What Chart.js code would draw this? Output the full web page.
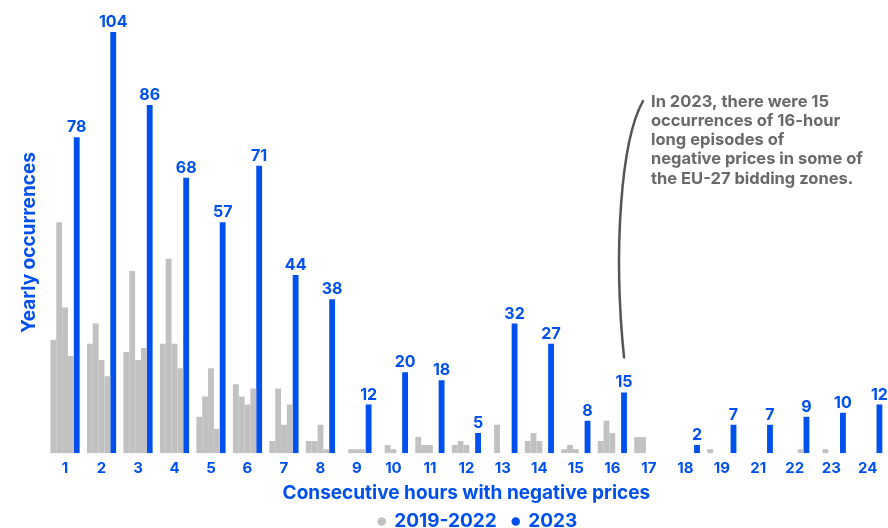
<!DOCTYPE html>
<html><head><meta charset="utf-8">
<script src="https://cdn.jsdelivr.net/npm/chart.js@4.4.1/dist/chart.umd.min.js"></script>
<style>html,body{margin:0;padding:0;background:#fff}#wrap{width:888px;height:528px;position:relative}</style>
</head><body><div id="wrap"><canvas id="c"></canvas></div>
<script>
// ---- data ----
const categories = ['1','2','3','4','5','6','7','8','9','10','11','12','13','14','15','16','17','18','19','21','22','23','24'];
const values2019 = [28,27,25,27,9,17,3,3,0,0,4,2,0,3,1,3,4,0,1,0,0,0,0];
const values2020 = [57,32,45,48,14,14,16,3,1,2,2,3,7,5,2,8,4,0,0,0,0,1,0];
const values2021 = [36,23,23,27,21,12,7,7,1,1,2,2,0,3,1,5,0,0,0,0,0,0,0];
const values2022 = [24,19,26,21,6,16,12,1,1,0,0,0,0,0,0,0,0,0,0,0,1,0,0];
const values2023 = [78,104,86,68,57,71,44,38,12,20,18,5,32,27,8,15,0,2,7,7,9,10,12];
const legendNames = ['2019-2022','2023'];
const yTitle = 'Yearly occurrences';
const xTitle = 'Consecutive hours with negative prices';
const noteLines = ['In 2023, there were 15','occurrences of 16-hour','long episodes of','negative prices in some of','the EU-27 bidding zones.'];
const noteCategory = '16';

const BLUE = '#0050EE', GREY = '#C1C1C1', NOTE = '#696969', FONT = 'Inter';

const greyDs = (label, data) => ({label, data, backgroundColor: GREY, borderWidth: 0, categoryPercentage: 0.8, barPercentage: 1.0});

const labelPlugin = {
  id: 'barLabels',
  afterDatasetsDraw(chart) {
    const ctx = chart.ctx;
    const meta = chart.getDatasetMeta(4);
    ctx.save();
    ctx.font = '700 16px ' + FONT;
    ctx.fillStyle = BLUE;
    ctx.textAlign = 'center';
    ctx.textBaseline = 'alphabetic';
    meta.data.forEach((bar, i) => {
      const v = values2023[i];
      if (!v) return;
      ctx.fillText(String(v), bar.x, bar.y - 5);
    });
    ctx.restore();
  }
};

const notePlugin = {
  id: 'note',
  afterDraw(chart) {
    const ctx = chart.ctx;
    const idx = categories.indexOf(noteCategory);
    const bar = chart.getDatasetMeta(4).data[idx];
    const ex = bar.x, ey = bar.y - 35;
    ctx.save();
    ctx.strokeStyle = '#555555';
    ctx.lineWidth = 2.5;
    ctx.lineCap = 'round';
    ctx.beginPath();
    ctx.moveTo(643, 101);
    ctx.bezierCurveTo(621, 140, 613, 250, ex, ey);
    ctx.stroke();
    ctx.font = '700 16.5px ' + FONT;
    ctx.fillStyle = NOTE;
    ctx.textAlign = 'left';
    ctx.textBaseline = 'alphabetic';
    noteLines.forEach((t, i) => ctx.fillText(t, 651, 106.5 + i * 19.3));
    ctx.restore();
  }
};

const legendShift = {
  id: 'legendShift',
  afterLayout(chart) {
    const dx = 27;
    chart.legend.left += dx;
    chart.legend.right += dx;
  }
};

new Chart(document.getElementById('c'), {
  type: 'bar',
  data: {
    labels: categories,
    datasets: [
      greyDs('2019', values2019),
      greyDs('2020', values2020),
      greyDs('2021', values2021),
      greyDs('2022', values2022),
      {label: '2023', data: values2023, backgroundColor: BLUE, borderWidth: 0, categoryPercentage: 0.8, barPercentage: 1.0}
    ]
  },
  options: {
    responsive: true,
    maintainAspectRatio: false,
    animation: false,
    devicePixelRatio: 1,
    layout: {padding: {top: 32, left: 16, right: 2, bottom: -13}},
    scales: {
      x: {
        grid: {display: false, drawTicks: false},
        border: {display: false},
        ticks: {color: BLUE, font: {family: FONT, size: 15, weight: '700'}, padding: 6, maxRotation: 0, autoSkip: false},
        title: {display: true, text: xTitle, color: BLUE, font: {family: FONT, size: 19, weight: '700'}, padding: {top: -1, bottom: -9}}
      },
      y: {
        min: 0, max: 104,
        grid: {display: false, drawTicks: false},
        border: {display: false},
        ticks: {display: false},
        title: {display: true, text: yTitle, color: BLUE, font: {family: FONT, size: 19, weight: '700'}, padding: {top: 2, bottom: 6}}
      }
    },
    plugins: {
      tooltip: {enabled: false},
      legend: {
        position: 'bottom',
        labels: {
          color: BLUE,
          font: {family: FONT, size: 19, weight: '700'},
          usePointStyle: true,
          pointStyle: 'circle',
          boxWidth: 6,
          boxHeight: 6,
          padding: 16,
          generateLabels(chart) {
            const items = Chart.defaults.plugins.legend.labels.generateLabels(chart);
            return [
              Object.assign(items[0], {text: legendNames[0], fillStyle: GREY, strokeStyle: GREY, lineWidth: 0}),
              Object.assign(items[4], {text: legendNames[1], fillStyle: BLUE, strokeStyle: BLUE, lineWidth: 0})
            ];
          }
        }
      }
    }
  },
  plugins: [labelPlugin, notePlugin, legendShift]
});
</script></body></html>
